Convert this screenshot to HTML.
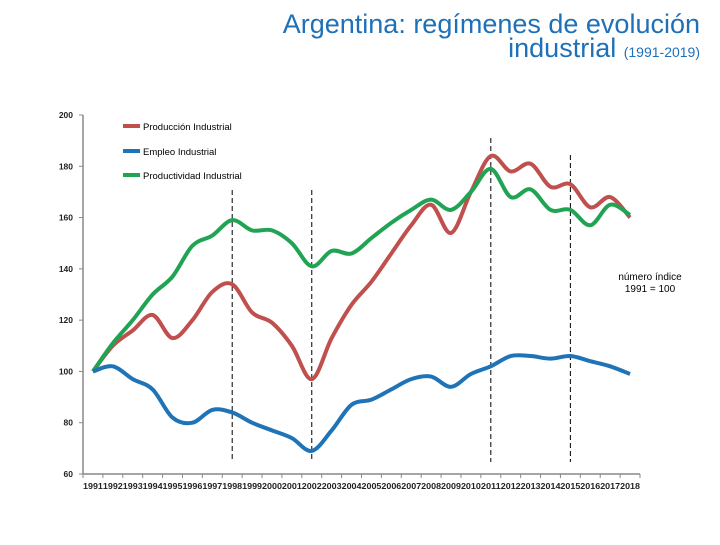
<!DOCTYPE html>
<html><head><meta charset="utf-8"><style>
body{margin:0;background:#fff;width:720px;height:540px;overflow:hidden;font-family:"Liberation Sans",sans-serif}
</style></head><body>
<svg width="720" height="540">
<text x="700" y="33" text-anchor="end" font-size="27" fill="#1e70b8">Argentina: regímenes de evolución</text>
<text x="700" y="57" text-anchor="end" font-size="27" fill="#1e70b8">industrial <tspan font-size="14">(1991-2019)</tspan></text>
<g id="axes"></g><g id="marks"></g>
<text x="650" y="280" text-anchor="middle" font-size="10" fill="#000">número índice</text>
<text x="650" y="292" text-anchor="middle" font-size="10" fill="#000">1991 = 100</text>
<g>
<line x1="123" y1="126" x2="140" y2="126" stroke="#c0504d" stroke-width="4"/><text x="143" y="130" font-size="9.5">Producción Industrial</text>
<line x1="123" y1="151" x2="140" y2="151" stroke="#1f73b7" stroke-width="4"/><text x="143" y="155" font-size="9.5">Empleo Industrial</text>
<line x1="123" y1="175" x2="140" y2="175" stroke="#21a354" stroke-width="4"/><text x="143" y="179" font-size="9.5">Productividad Industrial</text>
</g>
</svg>
<script>
const years=[1991,1992,1993,1994,1995,1996,1997,1998,1999,2000,2001,2002,2003,2004,2005,2006,2007,2008,2009,2010,2011,2012,2013,2014,2015,2016,2017,2018];
const produccion=[100,110,116,122,113,120,131,134,123,119,110,97,113,126,135,146,157,165,154,170,184,178,181,172,173,164,168,160];
const empleo=[100,102,97,93,82,80,85,84,80,77,74,69,77,87,89,93,97,98,94,99,102,106,106,105,106,104,102,99];
const productividad=[100,111,120,130,137,149,153,159,155,155,150,141,147,146,152,158,163,167,163,170,179,168,171,163,163,157,165,161];
const yTicks=[60,80,100,120,140,160,180,200];
const breakYears=[1998,2002,2011,2015];
const breakTops=[190,190,138,155];
const X0=83,X1=640,Y0=474,Y1=115;
const bw=(X1-X0)/years.length;
const xs=i=>X0+bw*(i+0.5);
const ys=v=>Y0-(v-60)/(140)*(Y0-Y1);
const NS='http://www.w3.org/2000/svg';
const axes=document.getElementById('axes'),marks=document.getElementById('marks');
function mk(tag,attrs,parent){const e=document.createElementNS(NS,tag);for(const k in attrs)e.setAttribute(k,attrs[k]);parent.appendChild(e);return e;}
let a=mk('line',{x1:X0,y1:Y1,x2:X0,y2:Y0,stroke:'#888','stroke-width':1.5},axes);

a=mk('line',{x1:X0,y1:Y0,x2:X1,y2:Y0,stroke:'#888','stroke-width':1.5},axes);

yTicks.forEach(v=>{
 mk('line',{x1:X0-4,y1:ys(v),x2:X0,y2:ys(v),stroke:'#888'},axes);
 const t=mk('text',{x:73,y:ys(v)+3,'text-anchor':'end','font-size':8.5,'font-weight':'bold',fill:'#222'},axes);
 t.textContent=v;
 
 
});
for(let i=0;i<=years.length;i++)mk('line',{x1:X0+bw*i,y1:Y0,x2:X0+bw*i,y2:Y0+4,stroke:'#888'},axes);
years.forEach((y,i)=>{
 const t=mk('text',{x:xs(i),y:489,'text-anchor':'middle','font-size':8.2,'font-weight':'bold',fill:'#222',textLength:bw,lengthAdjust:'spacingAndGlyphs'},axes);
 t.textContent=y;
 
 
});
breakYears.forEach((y,k)=>{
 const i=years.indexOf(y);
 const l=mk('line',{x1:xs(i),y1:breakTops[k],x2:xs(i),y2:462,stroke:'#000','stroke-dasharray':'5,3','stroke-width':1},marks);
 
 
});
function path(vals){
 const p=vals.map((v,i)=>[xs(i),ys(v)]);
 let d='M'+p[0][0]+','+p[0][1];
 for(let i=0;i<p.length-1;i++){
  const p0=p[Math.max(i-1,0)],p1=p[i],p2=p[i+1],p3=p[Math.min(i+2,p.length-1)];
  const c1=[p1[0]+(p2[0]-p0[0])/6,p1[1]+(p2[1]-p0[1])/6],c2=[p2[0]-(p3[0]-p1[0])/6,p2[1]-(p3[1]-p1[1])/6];
  d+=` C${c1[0]},${c1[1]} ${c2[0]},${c2[1]} ${p2[0]},${p2[1]}`;
 }
 return d;
}
let s=mk('path',{d:path(produccion),fill:'none',stroke:'#c0504d','stroke-width':4,'stroke-linejoin':'round'},marks);

s=mk('path',{d:path(productividad),fill:'none',stroke:'#21a354','stroke-width':4,'stroke-linejoin':'round'},marks);

s=mk('path',{d:path(empleo),fill:'none',stroke:'#1f73b7','stroke-width':4,'stroke-linejoin':'round'},marks);

</script>
</body></html>
